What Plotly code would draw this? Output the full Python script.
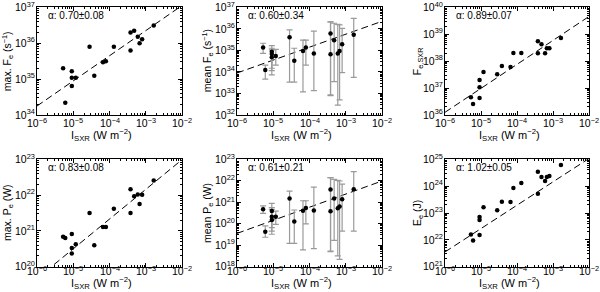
import numpy as np
import plotly.graph_objects as go

# ---------------- data (log10 values) ----------------
log_isxr = [-5.28, -5.22, -5.04, -5.04, -5.04, -4.93, -4.55, -4.42, -4.18,
            -4.10, -3.88, -3.42, -3.42, -3.32, -3.22, -3.17, -3.10, -2.78]

max_fe = [35.30, 34.34, 35.22, 35.04, 34.81, 35.04, 35.90, 35.09, 35.47,
          35.50, 35.90, 36.30, 35.80, 36.35, 36.18, 36.00, 36.11, 36.49]

mean_fe = [35.13, 34.09, 34.94, 34.83, 34.68, 34.74, 35.61, 34.52, 34.97,
           35.13, 34.85, 35.78, 34.82, 35.47, 34.86, 34.97, 35.28, 35.73]
mean_fe_hi = [35.33, 34.32, 35.22, 35.10, 35.02, 35.05, 35.95, 35.10, 35.48,
              35.48, 35.89, 36.32, 36.32, 36.26, 36.21, 36.18, 36.02, 36.49]
mean_fe_lo = [34.86, 33.67, 33.86, 34.06, 34.17, 34.32, 33.53, 33.53, 33.07,
              34.32, 33.13, 32.90, 32.93, 33.55, 32.46, 32.70, 33.97, 33.75]

fe_sxr = [36.66, 36.41, 37.30, 37.03, 36.63, 37.60, 37.51, 37.82, 37.78,
          38.30, 38.30, 38.74, 38.29, 38.63, 38.29, 38.48, 38.48, 38.86]

max_pe = [20.84, 20.80, 20.91, 20.52, 20.37, 20.63, 21.50, 20.60, 21.11,
          21.11, 21.62, 22.16, 21.50, 21.97, 22.02, 21.75, 22.01, 22.41]

mean_pe = [20.67, 19.63, 20.59, 20.33, 20.17, 20.33, 21.18, 20.11, 20.61,
           20.73, 20.62, 21.59, 20.58, 21.18, 20.72, 20.80, 21.14, 21.60]
mean_pe_hi = [20.83, 19.90, 20.95, 20.75, 20.67, 20.59, 21.52, 20.64, 21.07,
              21.07, 21.70, 22.15, 22.15, 22.07, 22.02, 21.99, 21.84, 22.43]
mean_pe_lo = [20.48, 19.37, 19.51, 19.66, 19.82, 19.97, 19.09, 19.09, 18.78,
              19.99, 18.84, 18.70, 18.73, 19.23, 18.50, 18.34, 19.66, 19.66]

e_e = [22.20, 21.98, 22.85, 22.74, 22.18, 23.21, 23.10, 23.42, 23.41,
       23.93, 24.12, 24.54, 23.72, 24.34, 24.19, 24.34, 24.38, 24.79]

# fit lines: log10(y) = intercept + slope*(log10(x)+6)
fit_slope = [0.70, 0.60, 0.89, 0.83, 0.61, 0.87]
fit_intercept = [34.25, 33.95, 36.10, 19.67, 19.55, 21.55]
alpha_text = ["α: 0.70±0.08", "α: 0.60±0.34", "α: 0.89±0.07",
              "α: 0.83±0.08", "α: 0.61±0.21", "α: 1.02±0.05"]
y_titles = ["max. F<sub>e</sub> (s<sup>−1</sup>)", "mean F<sub>e</sub> (s<sup>−1</sup>)",
            "F<sub>e,SXR</sub>", "max. P<sub>e</sub> (W)", "mean P<sub>e</sub> (W)",
            "E<sub>e</sub> (J)"]
x_title = "I<sub>SXR</sub> (W m<sup>−2</sup>)"
y_ranges = [(34, 37), (32, 37), (36, 40), (20, 23), (18, 23), (21, 25)]
x_range = (-6, -2)
x_tick_exp = [-6, -5, -4, -3, -2]

series = [max_fe, mean_fe, fe_sxr, max_pe, mean_pe, e_e]
errs = [None, (mean_fe_hi, mean_fe_lo), None, None, (mean_pe_hi, mean_pe_lo), None]

# ---------------- layout geometry (pixels) ----------------
W, H = 600, 292
col_px = [(37, 182), (237, 382), (445, 589)]
row_px = [(7.3, 115), (159.3, 266.7)]
ytitle_px = [8, 208, 418]
xtick_off = [7, 4]      # label centre below box bottom, per row
xtitle_off = [20, 16.5]

FONT = "Liberation Sans, Arial, sans-serif"
fig = go.Figure()
xs = 10.0 ** np.array(log_isxr)

def sup(k):
    return "10<sup>%s</sup>" % (str(k).replace("-", "−"))

def minor_vals(lo, hi):
    out = []
    for k in range(lo, hi):
        for m in range(2, 10):
            out.append(m * 10.0 ** k)
    return out

for i in range(6):
    r, c = divmod(i, 3)
    n = i + 1
    xa = "x" if n == 1 else "x%d" % n
    ya = "y" if n == 1 else "y%d" % n
    ys = 10.0 ** np.array(series[i])

    # fit line
    lx = np.array([x_range[0], x_range[1]], dtype=float)
    ly = fit_intercept[i] + fit_slope[i] * (lx + 6)
    fig.add_trace(go.Scatter(x=10 ** lx, y=10 ** ly, mode="lines",
                             line=dict(color="black", width=1, dash="7px,4px"),
                             xaxis=xa, yaxis=ya, showlegend=False, hoverinfo="skip"))

    err = None
    if errs[i] is not None:
        hi = 10.0 ** np.array(errs[i][0])
        lo = 10.0 ** np.array(errs[i][1])
        err = dict(type="data", symmetric=False, array=hi - ys, arrayminus=ys - lo,
                   color="#9a9a9a", thickness=1.2, width=3)
    fig.add_trace(go.Scatter(x=xs, y=ys, mode="markers",
                             marker=dict(color="black", size=4.5),
                             error_y=err, xaxis=xa, yaxis=ya, showlegend=False))

    x0, x1 = col_px[c]
    y0, y1 = row_px[r]
    yv = [10.0 ** k for k in range(y_ranges[i][0], y_ranges[i][1] + 1)]
    yt = [sup(k) for k in range(y_ranges[i][0], y_ranges[i][1] + 1)]
    common = dict(type="log", showline=True, linecolor="black", linewidth=1,
                  mirror="allticks", ticks="inside", ticklen=4, tickcolor="black",
                  showgrid=False, zeroline=False, automargin=False,
                  ticklabeloverflow="allow",
                  tickfont=dict(family=FONT, size=10.5, color="black"))
    fig.layout["xaxis" if n == 1 else "xaxis%d" % n] = dict(
        common, domain=[x0 / W, x1 / W], range=list(x_range),
        tickvals=[10.0 ** k for k in x_tick_exp], showticklabels=False, anchor=ya,
        minor=dict(ticks="inside", ticklen=2, tickcolor="black",
                   tickvals=minor_vals(x_range[0], x_range[1])))
    fig.layout["yaxis" if n == 1 else "yaxis%d" % n] = dict(
        common, domain=[1 - y1 / H, 1 - y0 / H], range=list(y_ranges[i]),
        tickvals=yv, ticktext=yt, anchor=xa, ticklabelstandoff=-1,
        minor=dict(ticks="inside", ticklen=2, tickcolor="black",
                   tickvals=minor_vals(y_ranges[i][0], y_ranges[i][1])))

    # x tick labels (as text placed under each major tick)
    for k in x_tick_exp:
        fig.add_annotation(x=k, y=1 - (y1 + xtick_off[r]) / H, xref=xa, yref="paper",
                           text=sup(k), showarrow=False, xanchor="center", yanchor="middle",
                           font=dict(family=FONT, size=10.5, color="black"))

    # alpha label
    fig.add_annotation(x=(x0 + 9) / W, y=1 - (y0 + 8) / H, xref="paper", yref="paper",
                       text=alpha_text[i], showarrow=False, xanchor="left", yanchor="middle",
                       font=dict(family=FONT, size=10, color="black"))
    # y title
    fig.add_annotation(x=ytitle_px[c] / W, y=1 - (y0 + y1) / 2 / H, xref="paper", yref="paper",
                       text=y_titles[i], showarrow=False, textangle=-90,
                       xanchor="center", yanchor="middle",
                       font=dict(family=FONT, size=10.5, color="black"))
    # x title
    fig.add_annotation(x=((x0 + x1) / 2 - 8) / W, y=1 - (y1 + xtitle_off[r]) / H,
                       xref="paper", yref="paper",
                       text=x_title, showarrow=False, xanchor="center", yanchor="middle",
                       font=dict(family=FONT, size=11, color="black"))

fig.update_layout(width=W, height=H, margin=dict(l=0, r=0, t=0, b=0, autoexpand=False),
                  paper_bgcolor="white", plot_bgcolor="white", autosize=False,
                  hovermode=False)
fig.write_html("out.html", config={"displayModeBar": False},
               post_script="document.body.style.margin='0';document.body.style.padding='0';")
